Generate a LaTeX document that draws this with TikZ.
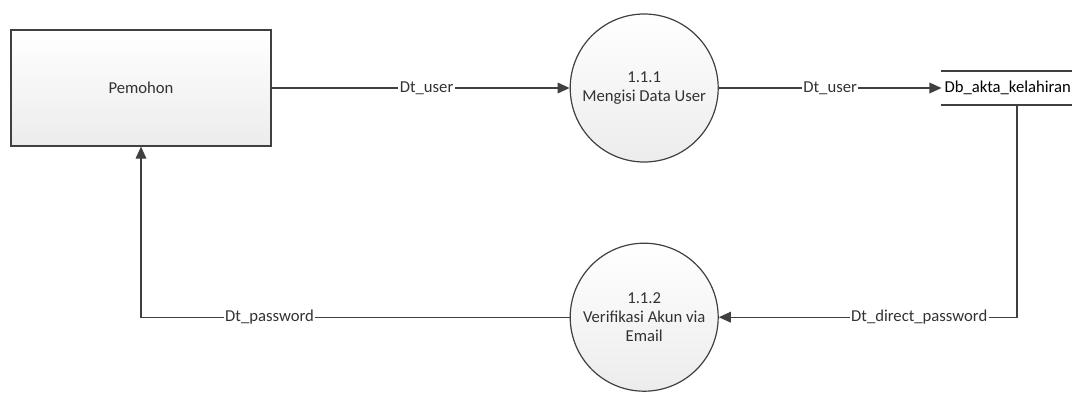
\documentclass[tikz,border=0pt]{standalone}
\usepackage{fontspec}
\setmainfont{Carlito}
\usepackage{tikz}
\usetikzlibrary{
  arrows.meta,
  positioning
}
\definecolor{linegray}{RGB}{64,64,64}
\definecolor{textgray}{RGB}{50,50,50}
\definecolor{boxfill}{RGB}{236,236,236}

\begin{document}
\begin{tikzpicture}[x=0.75pt, y=-0.75pt, font=\fontsize{12.5}{14.4}\selectfont]
  \useasboundingbox (0,0) rectangle (1072,394);
  \tikzset{
    flow/.style={-{Triangle[length=9pt, width=8pt]}, linegray, line width=0.9pt},
    lbl/.style={fill=white, inner sep=1pt, text=textgray},
    proc/.style={circle, draw=linegray, line width=0.9pt, top color=white, bottom color=boxfill, minimum size=111pt, align=center, text=textgray, inner sep=0pt}
  }
  \node[draw=linegray, line width=0.9pt, top color=white, bottom color=boxfill, text=textgray, minimum width=195pt, minimum height=87pt] (pemohon) at (141,88) {Pemohon};
  \node[proc, right=223.5pt of pemohon] (p111) {1.1.1\\Mengisi Data User};
  \node[proc, below=60pt of p111] (p112) {1.1.2\\Verifikasi Akun via\\Email};
  \node[right=167pt of p111, minimum width=99pt, minimum height=25.5pt, inner sep=1pt] (dbakta) {Db\_akta\_kelahiran};
  \draw[linegray, line width=1.6pt] (dbakta.north west) -- (dbakta.north east);
  \draw[linegray, line width=1.6pt] (dbakta.south west) -- (dbakta.south east);

  \draw[flow] (pemohon) -- (p111) node[pos=0.52, lbl] {Dt\_user};
  \draw[flow] (p111) -- (dbakta) node[midway, lbl] {Dt\_user};
  \draw[flow] ([xshift=7pt]dbakta.south) |- (p112) node[pos=0.664, lbl] {Dt\_direct\_password};
  \draw[flow] (p112) -| (pemohon) node[pos=0.35, lbl] {Dt\_password};
\end{tikzpicture}
\end{document}
